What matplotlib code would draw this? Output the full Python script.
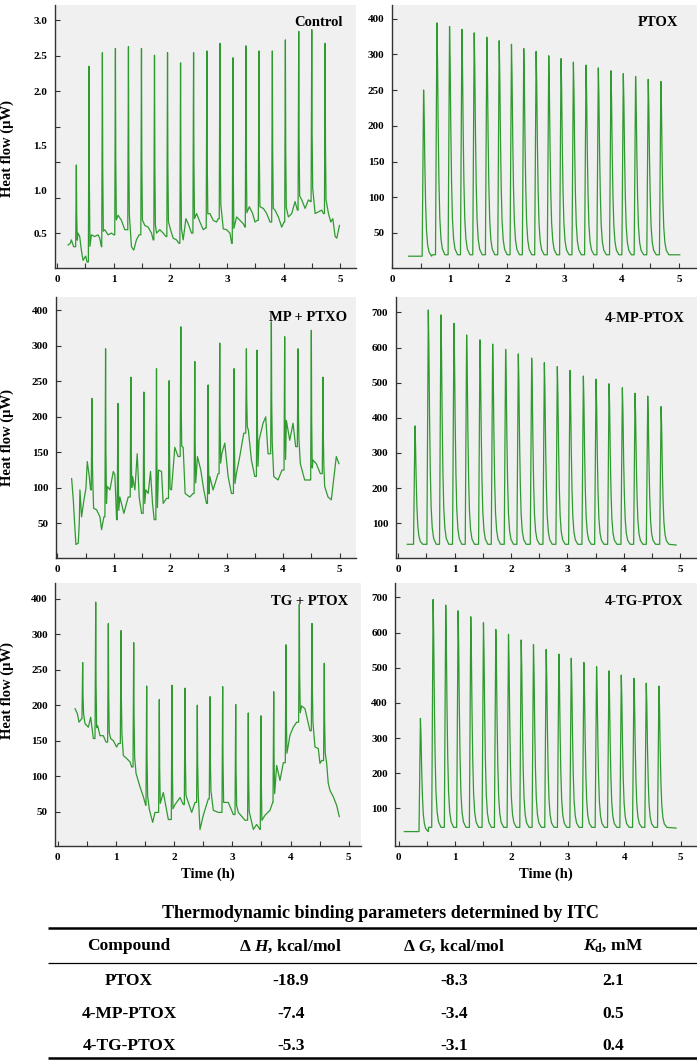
import numpy as np
import matplotlib
matplotlib.use("Agg")
import matplotlib.pyplot as plt
from matplotlib.ticker import FixedLocator, FixedFormatter, MultipleLocator

plt.rcParams['font.family'] = ['Liberation Serif', 'DejaVu Serif']
plt.rcParams['font.weight'] = 'bold'
plt.rcParams['mathtext.fontset'] = 'custom'
plt.rcParams['mathtext.rm'] = 'Liberation Serif:bold'
plt.rcParams['mathtext.it'] = 'Liberation Serif:bold:italic'
plt.rcParams['mathtext.bf'] = 'Liberation Serif:bold'

# ---- thermogram values (time in h, heat flow in axis units) ----
control_base_t = [0.195, 0.236, 0.254, 0.295, 0.330, 0.371, 0.401, 0.430, 0.460, 0.507, 0.531, 0.607,
                  0.666, 0.725, 0.755, 0.784, 0.843, 0.902, 0.961, 1.002, 1.079, 1.138, 1.197, 1.238,
                  1.315, 1.356, 1.403, 1.450, 1.551, 1.610, 1.669, 1.698, 1.757, 1.816, 1.875, 1.922,
                  2.005, 2.052, 2.111, 2.152, 2.229, 2.276, 2.317, 2.376, 2.465, 2.524, 2.583, 2.624,
                  2.700, 2.759, 2.818, 2.848, 2.936, 2.995, 3.054, 3.084, 3.172, 3.231, 3.290, 3.320,
                  3.396, 3.455, 3.497, 3.538, 3.644, 3.703, 3.762, 3.791, 3.850, 3.909, 3.968, 4.009,
                  4.086, 4.145, 4.204, 4.245, 4.322, 4.381, 4.440, 4.481, 4.558, 4.617, 4.676, 4.705,
                  4.794, 4.835, 4.870, 4.912, 4.941, 4.988]
control_base_v = [0.36, 0.38, 0.42, 0.34, 0.32, 0.50, 0.46, 0.30, 0.18, 0.23, 0.16, 0.48,
                  0.46, 0.48, 0.44, 0.34, 0.54, 0.48, 0.50, 0.48, 0.71, 0.65, 0.54, 0.54,
                  0.34, 0.30, 0.42, 0.48, 0.59, 0.57, 0.50, 0.42, 0.50, 0.54, 0.50, 0.46,
                  0.54, 0.44, 0.42, 0.38, 0.42, 0.67, 0.61, 0.50, 0.73, 0.63, 0.54, 0.56,
                  0.73, 0.65, 0.63, 0.67, 0.55, 0.54, 0.50, 0.38, 0.69, 0.65, 0.61, 0.57,
                  0.81, 0.73, 0.63, 0.65, 0.79, 0.73, 0.63, 0.65, 0.77, 0.69, 0.57, 0.63,
                  0.69, 0.73, 0.87, 0.77, 0.89, 0.79, 0.89, 0.87, 0.73, 0.75, 0.77, 0.73,
                  0.73, 0.63, 0.67, 0.46, 0.44, 0.59]
control_inj_t = [0.342, 0.566, 0.802, 1.032, 1.262, 1.492, 1.722, 1.952, 2.182, 2.412,
                 2.647, 2.877, 3.107, 3.337, 3.567, 3.803, 4.033, 4.269, 4.499, 4.735]
control_inj_v = [1.30, 2.46, 2.62, 2.67, 2.69, 2.67, 2.59, 2.62, 2.50, 2.62,
                 2.64, 2.73, 2.56, 2.70, 2.64, 2.64, 2.77, 2.87, 2.89, 2.73]

ptox_base_t = [0.29, 0.50, 0.70, 5.01]
ptox_base_v = [17.5, 17.5, 19.5, 19.5]
ptox_inj_t = [0.550, 0.782, 1.002, 1.217, 1.431, 1.651, 1.866, 2.080, 2.294, 2.509,
              2.729, 2.943, 3.158, 3.378, 3.592, 3.812, 4.027, 4.241, 4.461, 4.681]
ptox_inj_v = [250, 344, 339, 335, 330, 324, 319, 314, 308, 304,
              298, 294, 289, 285, 281, 277, 273, 269, 265, 262]

mp_base_t = [0.254, 0.283, 0.313, 0.330, 0.371, 0.389, 0.401, 0.430, 0.472, 0.507, 0.531, 0.566,
             0.590, 0.643, 0.696, 0.755, 0.784, 0.825, 0.884, 0.932, 0.991, 1.020, 1.050, 1.108,
             1.179, 1.256, 1.333, 1.374, 1.415, 1.450, 1.492, 1.568, 1.610, 1.651, 1.686, 1.716,
             1.792, 1.846, 1.875, 1.934, 2.022, 2.081, 2.140, 2.229, 2.264, 2.347, 2.406, 2.482,
             2.541, 2.594, 2.642, 2.700, 2.759, 2.848, 2.913, 2.966, 3.025, 3.084, 3.172, 3.231,
             3.302, 3.384, 3.438, 3.497, 3.573, 3.644, 3.691, 3.732, 3.833, 3.909, 3.980, 4.057,
             4.116, 4.175, 4.222, 4.304, 4.381, 4.440, 4.528, 4.587, 4.658, 4.735, 4.794, 4.853,
             4.900, 4.941, 4.988]
mp_base_v = [113, 83, 41, 20, 22, 50, 97, 59, 83, 99, 137, 116,
             97, 71, 69, 59, 41, 59, 102, 97, 123, 118, 55, 87,
             64, 87, 116, 97, 148, 87, 64, 97, 92, 123, 78, 55,
             125, 123, 78, 85, 97, 157, 144, 157, 92, 87, 92, 144,
             125, 97, 78, 116, 97, 120, 148, 163, 116, 92, 120, 144,
             177, 181, 139, 116, 167, 191, 200, 148, 116, 111, 125, 195,
             167, 191, 158, 134, 111, 111, 139, 134, 120, 102, 87, 83,
             116, 144, 134]
mp_inj_t = [0.613, 0.855, 1.073, 1.303, 1.533, 1.757, 1.981, 2.188, 2.435, 2.671,
            2.877, 3.131, 3.349, 3.538, 3.791, 4.027, 4.263, 4.499, 4.705]
mp_inj_v = [226, 296, 219, 256, 235, 268, 251, 327, 278, 245,
            304, 268, 296, 294, 334, 313, 296, 322, 256]

mpp_base_t = [0.16, 4.93]
mpp_base_v = [40, 38]
mpp_inj_t = [0.296, 0.533, 0.757, 0.988, 1.213, 1.450, 1.675, 1.905, 2.130, 2.367,
             2.592, 2.822, 3.047, 3.284, 3.509, 3.740, 3.976, 4.201, 4.426, 4.663]
mpp_inj_v = [377, 707, 693, 669, 636, 622, 610, 595, 582, 570,
             557, 546, 535, 519, 510, 497, 486, 470, 462, 432]

tg_base_t = [0.296, 0.336, 0.364, 0.410, 0.467, 0.525, 0.565, 0.610, 0.639, 0.685, 0.725, 0.782,
             0.828, 0.908, 0.954, 1.011, 1.040, 1.126, 1.183, 1.241, 1.269, 1.344, 1.412, 1.470,
             1.510, 1.573, 1.630, 1.670, 1.813, 1.899, 2.014, 2.100, 2.157, 2.300, 2.357, 2.443,
             2.500, 2.586, 2.672, 2.758, 2.844, 2.930, 3.016, 3.102, 3.216, 3.360, 3.417, 3.474,
             3.560, 3.646, 3.692, 3.761, 3.818, 3.875, 3.909, 3.990, 4.047, 4.104, 4.190, 4.247,
             4.304, 4.333, 4.419, 4.476, 4.505, 4.533, 4.620, 4.647, 4.677, 4.734, 4.791, 4.837]
tg_base_v = [195, 188, 176, 181, 174, 169, 183, 153, 155, 171, 157, 157,
             148, 153, 150, 141, 146, 129, 125, 120, 113, 104, 85, 71,
             59, 53, 35, 49, 77, 39, 60, 70, 60, 49, 63, 25,
             45, 68, 52, 49, 53, 63, 46, 49, 38, 25, 32, 25,
             45, 52, 63, 115, 94, 119, 147, 158, 169, 176, 199, 195,
             174, 164, 141, 139, 118, 122, 118, 90, 80, 71, 59, 43]
tg_inj_t = [0.427, 0.651, 0.868, 1.086, 1.304, 1.527, 1.744, 1.962, 2.186, 2.397,
            2.615, 2.833, 3.057, 3.273, 3.491, 3.710, 3.921, 4.150, 4.368, 4.579]
tg_inj_v = [260, 345, 315, 305, 288, 227, 208, 228, 224, 200,
            212, 226, 201, 189, 185, 219, 285, 342, 315, 259]

tgp_base_t = [0.10, 0.36, 0.53, 4.92]
tgp_base_v = [34, 34, 46, 44]
tgp_inj_t = [0.385, 0.610, 0.834, 1.053, 1.278, 1.503, 1.722, 1.947, 2.172, 2.390,
             2.615, 2.840, 3.060, 3.284, 3.509, 3.728, 3.947, 4.172, 4.390, 4.615]
tgp_inj_v = [356, 694, 678, 662, 645, 628, 609, 595, 579, 566,
             552, 539, 527, 515, 503, 491, 479, 470, 456, 448]

# tick labels as printed on the original axes
control_ticks = [0.5, 0.917, 1.333, 1.75, 2.167, 2.583, 3.0]
control_tick_labels = ['0.5', '', '', '', '2.0', '2.5', '3.0']
control_extra_ticks = [1.0, 1.53]
control_extra_labels = ['1.0', '1.5']
skip_ticks = [50, 100, 150, 200, 250, 300, 350]
skip_tick_labels = ['50', '100', '150', '200', '250', '300', '400']
hundred_ticks = [100, 200, 300, 400, 500, 600, 700]
hundred_tick_labels = ['100', '200', '300', '400', '500', '600', '700']

# table
table_title = 'Thermodynamic binding parameters determined by ITC'
table_header = ['Compound', r'$\Delta\ \mathit{H}$, kcal/mol', r'$\Delta\ \mathit{G}$, kcal/mol', r'$\mathit{K}_{\mathrm{d}}$, mM']
compounds = ['PTOX', '4-MP-PTOX', '4-TG-PTOX']
delta_h = ['-18.9', '-7.4', '-5.3']
delta_g = ['-8.3', '-3.4', '-3.1']
kd = ['2.1', '0.5', '0.4']

# spike outlines (offset from the spike top in h, fraction of height above baseline)
SHARP = ([-0.012, -0.004, 0.0, 0.006, 0.016], [0.0, 0.6, 1.0, 0.4, 0.08])
SMOOTH = ([-0.025, -0.018, -0.006, 0.0, 0.01, 0.022, 0.035, 0.05, 0.07, 0.095, 0.14],
          [0.0, 0.3, 0.75, 1.0, 0.85, 0.55, 0.32, 0.16, 0.07, 0.025, 0.0])


def thermogram(base_t, base_v, inj_t, inj_v, shape):
    bt = np.array(base_t, float)
    bv = np.array(base_v, float)
    dt = np.array(shape[0])
    frac = np.array(shape[1])
    keep = np.ones(len(bt), bool)
    ts, vs = [], []
    for t0, top in zip(inj_t, inj_v):
        before = bv[bt < t0 + dt[0]]
        b = before[-1] if len(before) else bv[0]
        keep &= ~((bt >= t0 + dt[0]) & (bt <= t0 + dt[-1]))
        ts.extend(t0 + dt)
        vs.extend(b + frac * (top - b))
    ts.extend(bt[keep])
    vs.extend(bv[keep])
    order = np.argsort(ts, kind='stable')
    return np.array(ts)[order], np.array(vs)[order]


W, H = 697, 1062
fig = plt.figure(figsize=(W / 100, H / 100), dpi=100)
GREEN = '#2f9a2f'
BG = '#f0f0f0'

panels = [
    dict(box=(55, 356, 5, 268), xlim=(-0.035, 5.28), ylim=(0.09, 3.18), shape=SHARP,
         data=(control_base_t, control_base_v, control_inj_t, control_inj_v),
         yt=(control_ticks, control_tick_labels, control_extra_ticks, control_extra_labels),
         name='Control', name_xy=(0.957, 0.932), ylab=0.456, xlab=False),
    dict(box=(392, 697, 5, 268), xlim=(0.0, 5.31), ylim=(1, 369), shape=SMOOTH,
         data=(ptox_base_t, ptox_base_v, ptox_inj_t, ptox_inj_v),
         yt=(skip_ticks, skip_tick_labels, [], []),
         name='PTOX', name_xy=(0.938, 0.932), ylab=None, xlab=False),
    dict(box=(56, 356, 297, 558), xlim=(-0.023, 5.29), ylim=(1, 369), shape=SHARP,
         data=(mp_base_t, mp_base_v, mp_inj_t, mp_inj_v),
         yt=(skip_ticks, skip_tick_labels, [], []),
         name='MP + PTXO', name_xy=(0.97, 0.92), ylab=0.46, xlab=False),
    dict(box=(396, 697, 297, 558), xlim=(-0.04, 5.30), ylim=(1, 744), shape=SMOOTH,
         data=(mpp_base_t, mpp_base_v, mpp_inj_t, mpp_inj_v),
         yt=(hundred_ticks, hundred_tick_labels, [], []),
         name='4-MP-PTOX', name_xy=(0.96, 0.916), ylab=None, xlab=False),
    dict(box=(55.5, 361, 583, 846), xlim=(-0.04, 5.21), ylim=(1.7, 372), shape=SHARP,
         data=(tg_base_t, tg_base_v, tg_inj_t, tg_inj_v),
         yt=(skip_ticks, skip_tick_labels, [], []),
         name='TG + PTOX', name_xy=(0.957, 0.93), ylab=0.593, xlab=True),
    dict(box=(395.5, 697, 583, 846), xlim=(-0.057, 5.29), ylim=(-7, 741), shape=SMOOTH,
         data=(tgp_base_t, tgp_base_v, tgp_inj_t, tgp_inj_v),
         yt=(hundred_ticks, hundred_tick_labels, [], []),
         name='4-TG-PTOX', name_xy=(0.954, 0.93), ylab=None, xlab=True),
]

for p in panels:
    x0, x1, y0, y1 = p['box']
    ax = fig.add_axes([x0 / W, 1 - y1 / H, (x1 - x0) / W, (y1 - y0) / H])
    ax.set_facecolor(BG)
    t, v = thermogram(*p['data'], p['shape'])
    ax.plot(t, v, color=GREEN, lw=0.9)
    ax.set_xlim(*p['xlim'])
    ax.set_ylim(*p['ylim'])
    for s in ('top', 'right'):
        ax.spines[s].set_visible(False)
    for s in ('left', 'bottom'):
        ax.spines[s].set_color('#333333')
        ax.spines[s].set_linewidth(1.0)
    ax.set_xticks(range(6))
    ax.set_xticklabels([str(i) for i in range(6)])
    ax.xaxis.set_minor_locator(MultipleLocator(0.5))
    major, labels, extra, extra_labels = p['yt']
    ax.yaxis.set_major_locator(FixedLocator(major))
    ax.yaxis.set_major_formatter(FixedFormatter(labels))
    ax.yaxis.set_minor_locator(FixedLocator(extra))
    ax.yaxis.set_minor_formatter(FixedFormatter(extra_labels))
    ax.tick_params(which='both', direction='in', length=3.5, width=0.8, color='#333333',
                   labelsize=8, pad=5)
    ax.tick_params(axis='y', which='minor', length=0)
    ax.tick_params(axis='y', which='both', pad=5.5)
    ax.text(p['name_xy'][0], p['name_xy'][1], p['name'], transform=ax.transAxes,
            ha='right', va='center', fontsize=10.5, fontweight='bold')
    if p['ylab'] is not None:
        ax.set_ylabel('Heat flow (µW)', fontsize=10.5, fontweight='bold')
        ax.yaxis.set_label_coords((14 - x0) / (x1 - x0), p['ylab'])
    if p['xlab']:
        ax.set_xlabel('Time (h)', fontsize=10.5, fontweight='bold')
        ax.xaxis.set_label_coords(0.5, -0.08)

# table drawn in pixel space underneath the panels
tab = fig.add_axes([0, 0, 1, 1], zorder=-1)
tab.set_xlim(0, W)
tab.set_ylim(H, 0)
tab.axis('off')
tab.text(380, 913, table_title, ha='center', va='center', fontsize=13, fontweight='bold')
tab.plot([48, W], [928, 928], color='black', lw=1.8, solid_capstyle='butt')
tab.plot([48, W], [963, 963], color='black', lw=0.9, solid_capstyle='butt')
tab.plot([48, W], [1058, 1058], color='black', lw=1.8, solid_capstyle='butt')
col_x = [129, 291, 454, 613]
for x, s in zip(col_x, table_header):
    tab.text(x, 946, s, ha='center', va='center', fontsize=12.5, fontweight='bold')
row_y = [981, 1014, 1046]
for y, c, h, g, k in zip(row_y, compounds, delta_h, delta_g, kd):
    for x, s in zip(col_x, (c, h, g, k)):
        tab.text(x, y, s, ha='center', va='center', fontsize=12.5, fontweight='bold')

fig.savefig('out.png', dpi=100)
